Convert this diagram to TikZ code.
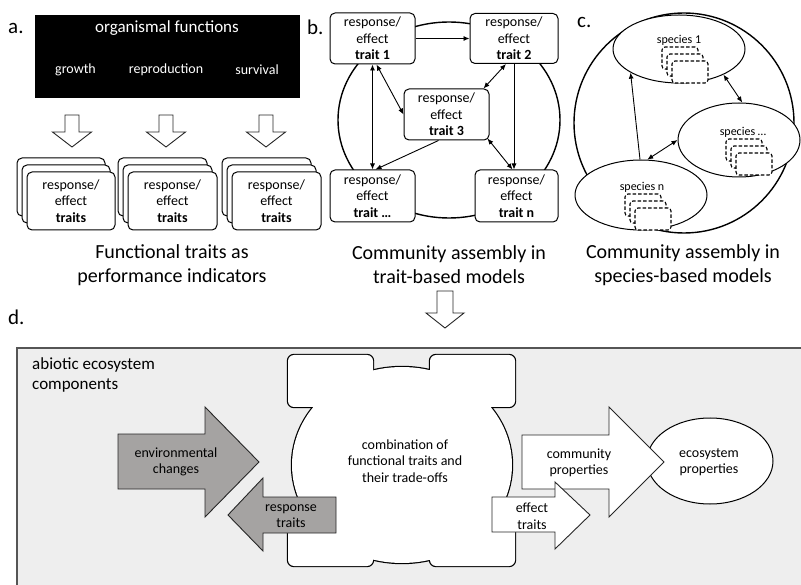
\documentclass[tikz,border=0pt]{standalone}
\usepackage{fontspec}
\setmainfont{Carlito}
\usetikzlibrary{shapes.geometric,arrows.meta}
\definecolor{bggray}{HTML}{EEEEEE}
\definecolor{arrgray}{HTML}{A5A3A2}
\definecolor{framegray}{HTML}{555555}
\tikzset{
  tbox/.style={draw, line width=1pt, rounded corners=5pt, fill=white, inner sep=0pt},
  txt/.style={font=\fontsize{14}{16.5}\selectfont, align=center, inner sep=0pt},
  smalltxt/.style={font=\fontsize{12}{14}\selectfont, align=center, inner sep=0pt},
  captxt/.style={font=\fontsize{20}{24}\selectfont, align=center, inner sep=0pt},
  plabel/.style={font=\fontsize{21}{24}\selectfont, inner sep=0pt},
  conn/.style={line width=0.9pt},
  bigring/.style={draw, line width=1.4pt, inner sep=0pt},
  blockw/.style={draw=black!85, line width=0.9pt, fill=white, line join=miter},
  blockg/.style={draw=black!85, line width=0.9pt, fill=arrgray, line join=miter},
  dbox/.style={draw=black, dash pattern=on 3.5pt off 2pt, line width=1.1pt, rounded corners=3pt, fill=white, minimum width=36pt, minimum height=22pt, inner sep=0pt},
  sp/.style={draw, ellipse, line width=1pt, fill=white, inner sep=0pt}
}
\begin{document}
\begin{tikzpicture}[x=1pt,y=-1pt,>={Latex[length=6pt,width=5pt]}]
\useasboundingbox[fill=white] (0,0) rectangle (801,585);

% ---------------- panel a ----------------
\node[plabel, anchor=west] (la) at (8,28) {a.};
\node[fill=black, minimum width=265pt, minimum height=83pt, inner sep=0pt] (func) at (167.5,56.5) {};
\node[font=\fontsize{17}{20}\selectfont, text=white, inner sep=0pt] (orgf) at (167,28) {organismal functions};
\node[txt, text=white] (grow) at (75.5,70) {growth};
\node[txt, text=white] (repr) at (166,70) {reproduction};
\node[txt, text=white] (surv) at (257,70) {survival};

\foreach \cx in {72,166,266}
  \draw[blockw] (\cx-7,115) -- (\cx+7,115) -- (\cx+7,132) -- (\cx+19.5,132) -- (\cx,147) -- (\cx-19.5,132) -- (\cx-7,132) -- cycle;

\foreach \cx/\w/\i in {71/88/1,172.5/89/2,276.5/89/3}{
  \node[tbox, minimum width=\w pt, minimum height=58pt] (st\i c) at (\cx-10,187) {};
  \node[tbox, minimum width=\w pt, minimum height=58pt] (st\i b) at (\cx-5,194) {};
  \node[tbox, txt, minimum width=\w pt, minimum height=58pt] (st\i a) at (\cx,201) {response/\\effect\\\textbf{traits}};
}
\node[captxt] (capa) at (172,265) {Functional traits as\\performance indicators};

% ---------------- panel b ----------------
\node[plabel, anchor=west] (lb) at (307,27) {b.};
\node[bigring, ellipse, minimum width=222pt, minimum height=196pt] (bcirc) at (449,120) {};
\node[tbox, txt, minimum width=85pt, minimum height=51pt] (t1) at (372.5,38.5) {response/\\effect\\\textbf{trait 1}};
\node[tbox, txt, minimum width=88pt, minimum height=50pt] (t2) at (514,38.5) {response/\\effect\\\textbf{trait 2}};
\node[tbox, txt, minimum width=85pt, minimum height=51pt] (t3) at (446.5,114.5) {response/\\effect\\\textbf{trait 3}};
\node[tbox, txt, minimum width=85pt, minimum height=52pt] (td) at (372.5,196) {response/\\effect\\\textbf{trait \dots}};
\node[tbox, txt, minimum width=83pt, minimum height=52pt] (tn) at (516.5,196) {response/\\effect\\\textbf{trait n}};

\draw[conn,->] (t1.east) -- (t1.east -| t2.west);
\draw[conn,<->] (t1.south) -- (t1.south |- td.north);
\draw[conn,<->] ([xshift=4pt]t1.south) -- (t3.west);
\draw[conn,<->] ([xshift=-6pt]t3.north east) -- ([xshift=-8pt]t2.south);
\draw[conn,->] (t2.south) -- (t2.south |- tn.north);
\draw[conn,<->] ([xshift=-2pt,yshift=2pt]t3.south east) -- ([xshift=-4pt]tn.north);
\draw[conn,->] ([xshift=-8pt]t3.south) -- ([xshift=3pt]td.north);
\node[captxt] (capb) at (449,265) {Community assembly in\\trait-based models};

% ---------------- panel c ----------------
\node[plabel, anchor=west] (lc) at (577,22) {c.};
\node[bigring, circle, minimum size=220pt] (ccirc) at (684,123) {};
\node[sp, minimum width=132pt, minimum height=68pt] (s1) at (679,49) {};
\node[sp, minimum width=122pt, minimum height=74pt] (sd) at (739,140) {};
\node[sp, minimum width=132pt, minimum height=70pt] (sn) at (641,195) {};

\foreach \cx/\cy/\i in {679/40/1,743/132/2,642/187/3}{
  \node[dbox] (db\i c) at (\cx+1,\cy+18) {};
  \node[dbox] (db\i b) at (\cx+6,\cy+25) {};
  \node[dbox] (db\i a) at (\cx+11,\cy+32) {};
}
\node[smalltxt] (s1t) at (679,40) {species 1};
\node[smalltxt] (sdt) at (743,132) {species \dots};
\node[smalltxt] (snt) at (642,187) {species n};

\draw[conn,->] ([xshift=-1pt]sn.north) -- (s1.206);
\draw[conn,<->] (s1.330) -- (sd.85);
\draw[conn,<->] (sn.80) -- (sd.west);
\node[captxt] (capc) at (683,265) {Community assembly in\\species-based models};

% connector between rows
\draw[blockw] (437,291) -- (453,291) -- (453,313) -- (464,313) -- (445,328) -- (426,313) -- (437,313) -- cycle;

% ---------------- panel d ----------------
\node[plabel, anchor=west] (ld) at (8,317) {d.};
\draw[draw=framegray, line width=1.5pt, fill=bggray] (17,348) rectangle (808,592);
\node[font=\fontsize{17}{20}\selectfont, align=left, inner sep=0pt, anchor=north west] (abio) at (32,357) {abiotic ecosystem\\components};

% blob: outline then fill
\path[draw=black, line width=2.4pt, rounded corners=6pt]
  (288,355) rectangle (373,407) (430,355) rectangle (515,407)
  (288,515) rectangle (373,566) (430,515) rectangle (515,566);
\path[draw=black, line width=2.4pt] (402,465) ellipse [x radius=110, y radius=98];
\path[fill=white, rounded corners=6pt]
  (288,355) rectangle (373,407) (430,355) rectangle (515,407)
  (288,515) rectangle (373,566) (430,515) rectangle (515,566);
\path[fill=white] (402,465) ellipse [x radius=110, y radius=98];
\node[txt] (blobt) at (405,461) {combination of\\functional traits and\\their trade-offs};

% environmental changes
\draw[blockg] (118,434) -- (205,434) -- (205,407) -- (259,462) -- (205,517) -- (205,489) -- (118,489) -- cycle;
\node[txt] (envt) at (176,462) {environmental\\changes};
% response traits
\draw[blockg] (336,497) -- (263,497) -- (263,478) -- (228,515) -- (263,551) -- (263,533) -- (336,533) -- cycle;
\node[txt] (respt) at (291,516) {response\\traits};

% ecosystem properties
\node[sp, minimum width=126pt, minimum height=86pt] (eco) at (710,461) {};
\node[txt] (ecot) at (709,462) {ecosystem\\properties};
% community properties
\draw[blockw] (522,435) -- (609,435) -- (609,407) -- (664,462) -- (609,517) -- (609,489) -- (522,489) -- cycle;
\node[txt] (commt) at (579,463) {community\\properties};
% effect traits
\draw[blockw] (492,497) -- (555,497) -- (555,482) -- (590,515) -- (555,549) -- (555,532) -- (492,532) -- cycle;
\node[txt] (efft) at (532,516) {effect\\traits};
\end{tikzpicture}
\end{document}
